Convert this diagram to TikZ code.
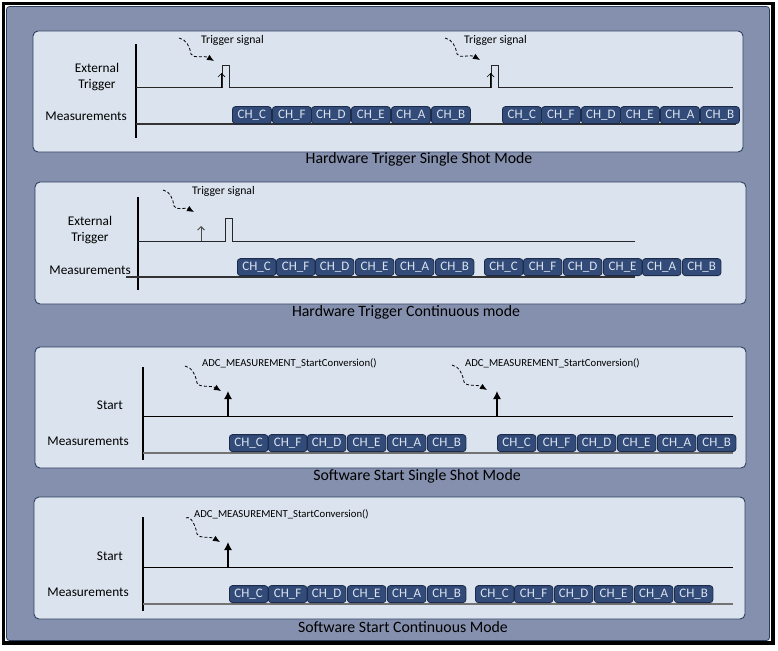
\documentclass[tikz,border=0pt]{standalone}
\usepackage{fontspec}
\setmainfont{Carlito}
\usetikzlibrary{arrows.meta,calc}
\definecolor{bgblue}{HTML}{8490AD}
\definecolor{panelfill}{HTML}{DBE3EE}
\definecolor{paneldraw}{HTML}{2C3E5E}
\definecolor{chipfill}{HTML}{324B78}
\definecolor{chipdraw}{HTML}{1C2B4A}
\definecolor{chiptext}{HTML}{DCE4F0}
\begin{document}
\begin{tikzpicture}[x=1pt,y=-1pt,
 panel/.style={draw=paneldraw,fill=panelfill,line width=0.9pt,rounded corners=5pt},
 chip/.style={draw=chipdraw,fill=chipfill,line width=0.8pt,rounded corners=3pt,minimum width=38.5pt,minimum height=17pt,inner sep=0pt,anchor=south west,text=chiptext,font=\fontsize{13}{13}\selectfont},
 lbl/.style={inner sep=0pt,font=\fontsize{13.3}{16}\selectfont},
 ttl/.style={inner sep=0pt,font=\fontsize{15.8}{18}\selectfont},
 sig/.style={inner sep=0pt,anchor=west,font=\fontsize{11.7}{13}\selectfont},
 fn/.style={inner sep=0pt,anchor=west,font=\fontsize{10.7}{12}\selectfont},
 axisline/.style={line width=1.3pt,black},
 wave/.style={line width=1pt,black!85},
 meas/.style={line width=1.4pt,black!80},
 meastwo/.style={line width=2pt,black!55},
 sigar/.style={black,line width=0.8pt,dash pattern=on 3pt off 2pt,-{Latex[length=7pt,width=6pt]}},
 openup/.style={line width=0.9pt,black!70,-{Straight Barb[length=3.5pt,width=7pt]}},
 solidup/.style={line width=1.2pt,black,-{Latex[length=8pt,width=8pt]}}
]
\useasboundingbox (0,0) rectangle (778,650);
\fill[white] (0,0) rectangle (778,650);
\draw[black,line width=3.5pt] (3.5,3.5) rectangle (773,643);
\draw[fill=bgblue,draw=paneldraw,line width=0.8pt,rounded corners=3pt] (6.5,6.5) rectangle (769.5,640.5);

% ---------- Panel 1 ----------
\draw[panel] (33,31) rectangle (743,152);
\draw[axisline] (136,44) -- (136,138);
\node[lbl,align=center] (p1ext) at (97,77) {External\\Trigger};
\node[lbl,anchor=east] (p1meas) at (127,116) {Measurements};
\draw[wave] (136,88) -- (222,88) -- (222,66) -- (229,66) -- (229,88) -- (491,88) -- (491,66) -- (498,66) -- (498,88) -- (733,88);
\coordinate (p1u1b) at (221.5,88); \coordinate (p1u1t) at (221.5,73);
\coordinate (p1u2b) at (490.5,88); \coordinate (p1u2t) at (490.5,73);
\draw[openup,black,line width=0.7pt] (p1u1b) -- (p1u1t);
\draw[openup,black,line width=0.7pt] (p1u2b) -- (p1u2t);
\coordinate (p1s1) at (179,38); \coordinate (p1t1) at (214,61);
\coordinate (p1s2) at (445,38); \coordinate (p1t2) at (480,60);
\draw[sigar] (p1s1) .. controls +(7,1) and +(-1,-7) .. ($(p1s1)+(12,16)$) .. controls +(2,5) and +(-10,-6) .. (p1t1);
\draw[sigar] (p1s2) .. controls +(7,1) and +(-1,-7) .. ($(p1s2)+(12,16)$) .. controls +(2,5) and +(-10,-6) .. (p1t2);
\node[sig] (p1sig1) at (201,40) {Trigger signal};
\node[sig] (p1sig2) at (464,40) {Trigger signal};
\draw[meas] (136,124) -- (736,124);
\foreach \x/\t [count=\i] in {232/C,272/F,311/D,351/E,391/A,431/B}
  \node[chip,minimum width=39pt] (p1a\i) at (\x,124) {CH\_\t};
\foreach \x/\t [count=\i] in {502/C,541/F,581/D,620/E,660/A,700/B}
  \node[chip,minimum width=39pt] (p1b\i) at (\x,124) {CH\_\t};
\node[ttl] (p1title) at (419,159) {Hardware Trigger Single Shot Mode};

% ---------- Panel 2 ----------
\draw[panel] (35,182) rectangle (746,304);
\draw[axisline] (138,197) -- (138,290);
\node[lbl,align=center] (p2ext) at (90,230) {External\\Trigger};
\node[lbl,anchor=east] (p2meas) at (131,270) {Measurements};
\draw[wave] (138,241) -- (225,241) -- (225,218) -- (232,218) -- (232,241) -- (635,241);
\coordinate (p2ub) at (201,241); \coordinate (p2ut) at (201,226);
\draw[openup] (p2ub) -- (p2ut);
\coordinate (p2s1) at (163,190); \coordinate (p2t1) at (194,212);
\draw[sigar] (p2s1) .. controls +(7,1) and +(-1,-7) .. ($(p2s1)+(11,16)$) .. controls +(2,5) and +(-9,-5) .. (p2t1);
\node[sig] (p2sig1) at (192,191) {Trigger signal};
\draw[meas] (126,277) -- (635,277);
\foreach \x/\t [count=\i] in {237/C,276/F,315/D,355/E,395/A,435/B}
  \node[chip] (p2a\i) at (\x,276) {CH\_\t};
\foreach \x/\t [count=\i] in {484/C,523/F,563/D,603/E,642/A,682/B}
  \node[chip] (p2b\i) at (\x,276) {CH\_\t};
\node[ttl] (p2title) at (406,312) {Hardware Trigger Continuous mode};

% ---------- Panel 3 ----------
\draw[panel] (35,347) rectangle (746,468);
\draw[axisline] (143,367) -- (143,460);
\node[lbl,anchor=east] (p3start) at (123,405) {Start};
\node[lbl,anchor=east] (p3meas) at (129,441) {Measurements};
\draw[line width=1pt,black] (143,416) -- (733,416);
\coordinate (p3u1b) at (228,416); \coordinate (p3u1t) at (228,391);
\coordinate (p3u2b) at (497,416); \coordinate (p3u2t) at (497,391);
\draw[solidup] (p3u1b) -- (p3u1t);
\draw[solidup] (p3u2b) -- (p3u2t);
\coordinate (p3s1) at (185,366); \coordinate (p3t1) at (221,391);
\coordinate (p3s2) at (452,365); \coordinate (p3t2) at (487,390);
\draw[sigar] (p3s1) .. controls +(7,1) and +(-1,-7) .. ($(p3s1)+(12,17)$) .. controls +(2,5) and +(-10,-6) .. (p3t1);
\draw[sigar] (p3s2) .. controls +(7,1) and +(-1,-7) .. ($(p3s2)+(12,17)$) .. controls +(2,5) and +(-10,-6) .. (p3t2);
\node[fn] (p3fn1) at (202,363) {ADC\_MEASUREMENT\_StartConversion()};
\node[fn] (p3fn2) at (465,363) {ADC\_MEASUREMENT\_StartConversion()};
\draw[meastwo] (143,453) -- (733,453);
\foreach \x/\t [count=\i] in {229/C,268/F,307/D,347/E,387/A,427/B}
  \node[chip] (p3a\i) at (\x,452) {CH\_\t};
\foreach \x/\t [count=\i] in {497/C,537/F,577/D,617/E,657/A,697/B}
  \node[chip] (p3b\i) at (\x,452) {CH\_\t};
\node[ttl] (p3title) at (417,476) {Software Start Single Shot Mode};

% ---------- Panel 4 ----------
\draw[panel] (34,497) rectangle (745,619);
\draw[axisline] (143,517) -- (143,611);
\node[lbl,anchor=east] (p4start) at (123,556) {Start};
\node[lbl,anchor=east] (p4meas) at (129,592) {Measurements};
\draw[line width=1pt,black] (143,567) -- (733,567);
\coordinate (p4ub) at (228,567); \coordinate (p4ut) at (228,542);
\draw[solidup] (p4ub) -- (p4ut);
\coordinate (p4s1) at (186,518); \coordinate (p4t1) at (220,542);
\draw[sigar] (p4s1) .. controls +(5,-3) and +(-1,-7) .. ($(p4s1)+(11,16)$) .. controls +(2,5) and +(-10,-6) .. (p4t1);
\node[fn] (p4fn1) at (194,514) {ADC\_MEASUREMENT\_StartConversion()};
\draw[meastwo] (143,604) -- (733,604);
\foreach \x/\t [count=\i] in {229/C,268/F,307/D,347/E,387/A,427/B}
  \node[chip] (p4a\i) at (\x,603) {CH\_\t};
\foreach \x/\t [count=\i] in {475/C,514/F,554/D,594/E,634/A,674/B}
  \node[chip] (p4b\i) at (\x,603) {CH\_\t};
\node[ttl] (p4title) at (403,627) {Software Start Continuous Mode};
\end{tikzpicture}
\end{document}
